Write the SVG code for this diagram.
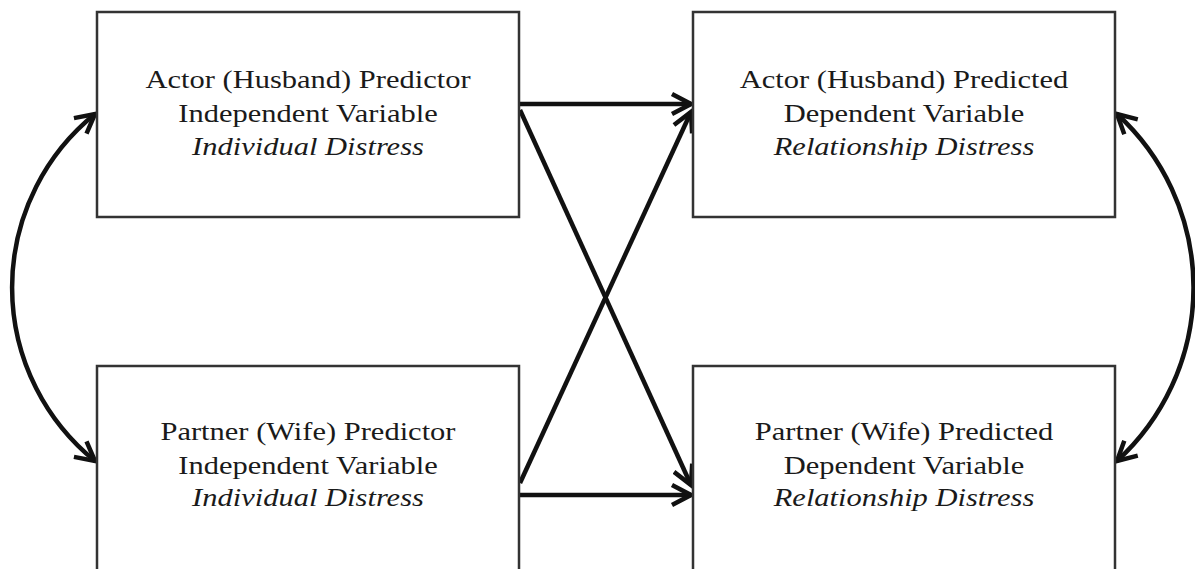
<svg xmlns="http://www.w3.org/2000/svg" width="1195" height="569" viewBox="0 0 1195 569">
<style>
.box{fill:#fff;stroke:#333;stroke-width:2.5}
.t{font-family:"Liberation Serif","Times New Roman",serif;font-size:25px;fill:#1a1a1a;text-anchor:middle}
.i{font-style:italic}
.c{fill:none;stroke:#111;stroke-width:4.5}
</style>
<defs>
<marker id="ah" viewBox="-22 -12 26 24" refX="0" refY="0" markerWidth="26" markerHeight="24" markerUnits="userSpaceOnUse" orient="auto-start-reverse">
<path d="M-19,-10 L0,0 L-19,10" fill="none" stroke="#111" stroke-width="4.5" stroke-linejoin="miter"/>
</marker>
</defs>
<rect width="1195" height="569" fill="#fff"/>
<g id="connectors">
<line class="c" x1="520" y1="104" x2="691" y2="104" marker-end="url(#ah)"/>
<line class="c" x1="520" y1="495" x2="691" y2="495" marker-end="url(#ah)"/>
<line class="c" x1="520" y1="110" x2="691" y2="485" marker-end="url(#ah)"/>
<line class="c" x1="520" y1="483" x2="691" y2="112" marker-end="url(#ah)"/>
<path class="c" d="M95,114 A223,223 0 0 0 95,461" marker-start="url(#ah)" marker-end="url(#ah)"/>
<path class="c" d="M1117,114 A235,235 0 0 1 1117,461" marker-start="url(#ah)" marker-end="url(#ah)"/>
</g>
<g id="actor-predictor">
<rect class="box" x="97" y="12" width="422" height="205"/>
<g transform="translate(308,0) scale(1.22,1)">
<text class="t" x="0" y="88">Actor (Husband) Predictor</text>
<text class="t" x="0" y="122">Independent Variable</text>
<text class="t i" x="0" y="155">Individual Distress</text>
</g>
</g>
<g id="actor-predicted">
<rect class="box" x="693" y="12" width="422" height="205"/>
<g transform="translate(904,0) scale(1.22,1)">
<text class="t" x="0" y="88">Actor (Husband) Predicted</text>
<text class="t" x="0" y="122">Dependent Variable</text>
<text class="t i" x="0" y="155">Relationship Distress</text>
</g>
</g>
<g id="partner-predictor">
<rect class="box" x="97" y="366" width="422" height="215"/>
<g transform="translate(308,0) scale(1.22,1)">
<text class="t" x="0" y="440">Partner (Wife) Predictor</text>
<text class="t" x="0" y="474">Independent Variable</text>
<text class="t i" x="0" y="506">Individual Distress</text>
</g>
</g>
<g id="partner-predicted">
<rect class="box" x="693" y="366" width="422" height="215"/>
<g transform="translate(904,0) scale(1.22,1)">
<text class="t" x="0" y="440">Partner (Wife) Predicted</text>
<text class="t" x="0" y="474">Dependent Variable</text>
<text class="t i" x="0" y="506">Relationship Distress</text>
</g>
</g>
</svg>
